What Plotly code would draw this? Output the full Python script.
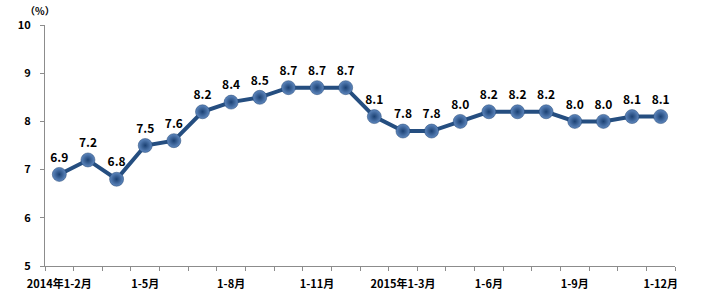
import plotly.graph_objects as go

categories = ["2014年1-2月", "1-3月", "1-4月", "1-5月", "1-6月", "1-7月", "1-8月", "1-9月", "1-10月", "1-11月", "1-12月",
              "2015年1-2月", "2015年1-3月", "1-4月", "1-5月", "1-6月", "1-7月", "1-8月", "1-9月", "1-10月", "1-11月", "1-12月"]
values = [6.9, 7.2, 6.8, 7.5, 7.6, 8.2, 8.4, 8.5, 8.7, 8.7, 8.7, 8.1, 7.8, 7.8, 8.0, 8.2, 8.2, 8.2, 8.0, 8.0, 8.1, 8.1]
label_idx = [0, 3, 6, 9, 12, 15, 18, 21]
y_ticks = [5, 6, 7, 8, 9, 10]

xs = list(range(len(values)))
font_fam = "Noto Sans CJK SC"

fig = go.Figure()
fig.add_trace(go.Scatter(
    x=xs, y=values, mode="lines+markers+text",
    line=dict(color="#254E80", width=4),
    marker=dict(size=14, color="#5F88BF", line=dict(color="#1E4270", width=0.5),
                gradient=dict(type="radial", color="#1B4173")),
    text=[f"{v:.1f}" for v in values], textposition="top center",
    textfont=dict(family=font_fam, size=12, color="black", weight="bold"),
    cliponaxis=False, hoverinfo="skip"))

fig.update_layout(
    width=703, height=298, margin=dict(l=45, r=28, t=25, b=32, autoexpand=False),
    paper_bgcolor="white", plot_bgcolor="white", showlegend=False,
    font=dict(family=font_fam, size=11, color="black"),
    xaxis=dict(range=[-0.5, len(values) - 0.5], tickmode="array",
               tickvals=label_idx, ticktext=[categories[i] for i in label_idx],
               ticks="", showgrid=False, showline=True, linecolor="#8C8C8C", linewidth=1,
               zeroline=False, tickfont=dict(family=font_fam, size=11, weight="bold"),
               ticklabelstandoff=8, automargin=False,
               minor=dict(tick0=-0.5, dtick=1, ticks="outside", ticklen=4, tickcolor="#8C8C8C", showgrid=False)),
    yaxis=dict(range=[5, 10], tickvals=y_ticks, ticks="outside", ticklen=4, tickcolor="#8C8C8C",
               showgrid=False, showline=True, linecolor="#8C8C8C", linewidth=1, zeroline=False,
               ticklabelstandoff=7, automargin=False,
               tickfont=dict(family=font_fam, size=11, weight="bold")),
    annotations=[dict(text="（%）", xref="paper", yref="paper", x=-0.008, y=1.0, yshift=15,
                      xanchor="center", yanchor="middle", showarrow=False,
                      font=dict(family=font_fam, size=10, weight="bold"))],
)

fig.write_html("out.html")
